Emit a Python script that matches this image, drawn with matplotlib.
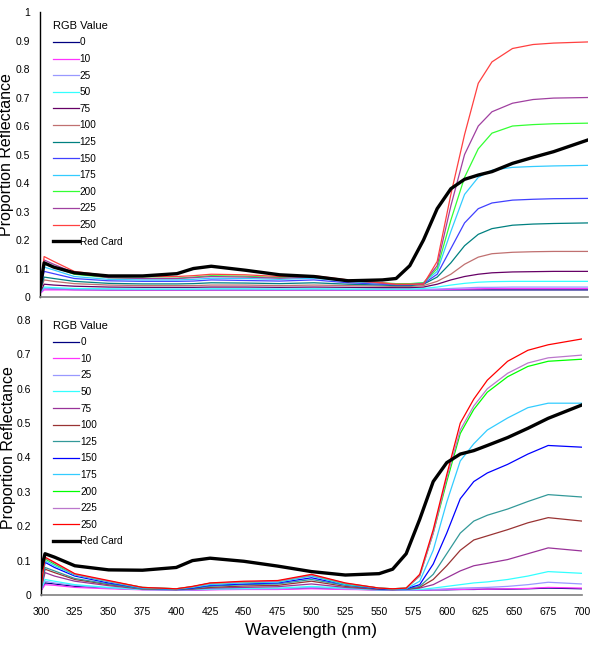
import matplotlib
matplotlib.use('Agg')
import matplotlib.pyplot as plt
import numpy as np

plt.rcParams['font.family'] = ['Liberation Sans', 'DejaVu Sans']

# wavelength samples (nm)
wl = [300, 303, 310, 325, 350, 375, 400, 412, 425, 450, 475, 500, 525,
      550, 560, 570, 580, 590, 600, 610, 620, 630, 645, 660, 675, 700]

rgb_labels = ['0', '10', '25', '50', '75', '100', '125', '150', '175',
              '200', '225', '250']

# ---- top panel ----
top_0 = [0.015, 0.03, 0.028, 0.026, 0.025, 0.025, 0.025, 0.025, 0.025, 0.025, 0.025, 0.025, 0.025,
         0.025, 0.025, 0.025, 0.025, 0.025, 0.025, 0.025, 0.025, 0.025, 0.025, 0.025, 0.025, 0.025]
top_10 = [0.012, 0.025, 0.025, 0.025, 0.025, 0.025, 0.025, 0.025, 0.025, 0.025, 0.025, 0.025, 0.025,
          0.025, 0.025, 0.025, 0.025, 0.026, 0.027, 0.028, 0.029, 0.03, 0.03, 0.03, 0.03, 0.03]
top_25 = [0.015, 0.03, 0.029, 0.028, 0.027, 0.027, 0.027, 0.027, 0.027, 0.027, 0.027, 0.027, 0.027,
          0.027, 0.027, 0.027, 0.027, 0.028, 0.03, 0.032, 0.034, 0.034, 0.035, 0.035, 0.035, 0.035]
top_50 = [0.015, 0.035, 0.033, 0.03, 0.029, 0.028, 0.028, 0.028, 0.029, 0.029, 0.028, 0.029, 0.028,
          0.028, 0.028, 0.028, 0.03, 0.035, 0.042, 0.048, 0.052, 0.054, 0.055, 0.055, 0.055, 0.055]
top_75 = [0.015, 0.045, 0.042, 0.038, 0.035, 0.034, 0.034, 0.034, 0.035, 0.035, 0.034, 0.035, 0.034,
          0.033, 0.033, 0.033, 0.035, 0.045, 0.06, 0.072, 0.08, 0.085, 0.088, 0.089, 0.09, 0.09]
top_100 = [0.018, 0.06, 0.055, 0.047, 0.042, 0.04, 0.04, 0.04, 0.042, 0.042, 0.04, 0.042, 0.04,
           0.038, 0.037, 0.037, 0.04, 0.055, 0.08, 0.115, 0.14, 0.152, 0.157, 0.159, 0.16, 0.16]
top_125 = [0.02, 0.07, 0.065, 0.055, 0.048, 0.046, 0.046, 0.047, 0.05, 0.049, 0.047, 0.05, 0.045,
           0.042, 0.04, 0.04, 0.045, 0.07, 0.12, 0.18, 0.22, 0.24, 0.252, 0.256, 0.258, 0.26]
top_150 = [0.02, 0.09, 0.082, 0.065, 0.057, 0.055, 0.055, 0.056, 0.06, 0.058, 0.056, 0.06, 0.05,
           0.045, 0.043, 0.043, 0.047, 0.08, 0.17, 0.26, 0.31, 0.33, 0.34, 0.343, 0.345, 0.346]
top_175 = [0.02, 0.105, 0.095, 0.072, 0.062, 0.06, 0.06, 0.062, 0.066, 0.065, 0.062, 0.066, 0.055,
           0.048, 0.046, 0.046, 0.05, 0.09, 0.23, 0.36, 0.42, 0.445, 0.455, 0.458, 0.46, 0.462]
top_200 = [0.02, 0.115, 0.105, 0.08, 0.068, 0.066, 0.066, 0.07, 0.075, 0.073, 0.068, 0.072, 0.058,
           0.05, 0.047, 0.047, 0.05, 0.1, 0.27, 0.42, 0.52, 0.575, 0.6, 0.605, 0.608, 0.61]
top_225 = [0.02, 0.13, 0.115, 0.085, 0.068, 0.065, 0.065, 0.068, 0.072, 0.07, 0.066, 0.07, 0.058,
           0.048, 0.044, 0.044, 0.048, 0.11, 0.32, 0.5, 0.6, 0.65, 0.68, 0.693, 0.698, 0.7]
top_250 = [0.02, 0.142, 0.125, 0.09, 0.075, 0.072, 0.072, 0.075, 0.08, 0.078, 0.072, 0.075, 0.06,
           0.05, 0.045, 0.045, 0.045, 0.125, 0.36, 0.57, 0.75, 0.825, 0.872, 0.886, 0.891, 0.895]
top_card = [0.03, 0.12, 0.105, 0.085, 0.074, 0.074, 0.082, 0.1, 0.108, 0.094, 0.078, 0.072, 0.057,
            0.06, 0.065, 0.11, 0.2, 0.31, 0.38, 0.413, 0.428, 0.44, 0.469, 0.49, 0.51, 0.551]

# ---- bottom panel ----
bot_0 = [0.012, 0.035, 0.032, 0.025, 0.02, 0.016, 0.015, 0.015, 0.016, 0.017, 0.017, 0.02, 0.017,
         0.015, 0.014, 0.014, 0.014, 0.015, 0.015, 0.016, 0.016, 0.017, 0.017, 0.018, 0.02, 0.018]
bot_10 = [0.012, 0.03, 0.028, 0.022, 0.018, 0.015, 0.014, 0.014, 0.015, 0.016, 0.016, 0.018, 0.016,
          0.015, 0.014, 0.014, 0.014, 0.015, 0.016, 0.016, 0.017, 0.017, 0.018, 0.019, 0.022, 0.02]
bot_25 = [0.015, 0.04, 0.035, 0.028, 0.02, 0.016, 0.015, 0.015, 0.016, 0.017, 0.018, 0.022, 0.018,
          0.015, 0.015, 0.015, 0.015, 0.016, 0.018, 0.02, 0.021, 0.022, 0.025, 0.03, 0.037, 0.032]
bot_50 = [0.015, 0.045, 0.04, 0.03, 0.022, 0.016, 0.015, 0.016, 0.018, 0.019, 0.02, 0.025, 0.02,
          0.015, 0.015, 0.015, 0.016, 0.02, 0.025, 0.03, 0.035, 0.038, 0.045, 0.055, 0.068, 0.063]
bot_75 = [0.015, 0.065, 0.055, 0.04, 0.027, 0.017, 0.015, 0.017, 0.02, 0.022, 0.024, 0.032, 0.022,
          0.016, 0.015, 0.016, 0.02, 0.03, 0.05, 0.07, 0.085, 0.092, 0.103, 0.12, 0.137, 0.128]
bot_100 = [0.02, 0.075, 0.065, 0.045, 0.03, 0.018, 0.016, 0.018, 0.022, 0.026, 0.028, 0.04, 0.025,
           0.017, 0.016, 0.017, 0.022, 0.045, 0.085, 0.13, 0.16, 0.172, 0.19, 0.21, 0.225, 0.215]
bot_125 = [0.02, 0.08, 0.07, 0.048, 0.032, 0.018, 0.016, 0.019, 0.025, 0.03, 0.032, 0.045, 0.028,
           0.018, 0.016, 0.017, 0.025, 0.06, 0.12, 0.18, 0.215, 0.232, 0.25, 0.272, 0.292, 0.285]
bot_150 = [0.02, 0.095, 0.08, 0.055, 0.035, 0.02, 0.017, 0.02, 0.028, 0.032, 0.035, 0.05, 0.03,
           0.018, 0.017, 0.018, 0.03, 0.09, 0.18, 0.28, 0.33, 0.355, 0.38, 0.41, 0.435, 0.43]
bot_175 = [0.02, 0.1, 0.085, 0.058, 0.038, 0.02, 0.017, 0.022, 0.03, 0.035, 0.037, 0.055, 0.03,
           0.02, 0.017, 0.018, 0.04, 0.13, 0.27, 0.39, 0.44, 0.48, 0.515, 0.545, 0.558, 0.558]
bot_200 = [0.02, 0.105, 0.09, 0.06, 0.04, 0.022, 0.018, 0.024, 0.034, 0.038, 0.04, 0.058, 0.033,
           0.02, 0.018, 0.02, 0.055, 0.18, 0.33, 0.47, 0.54, 0.59, 0.635, 0.665, 0.68, 0.686]
bot_225 = [0.02, 0.108, 0.093, 0.06, 0.04, 0.022, 0.018, 0.024, 0.034, 0.038, 0.04, 0.058, 0.034,
           0.02, 0.018, 0.02, 0.055, 0.18, 0.34, 0.48, 0.55, 0.6, 0.645, 0.675, 0.69, 0.698]
bot_250 = [0.02, 0.11, 0.095, 0.062, 0.042, 0.022, 0.018, 0.025, 0.035, 0.04, 0.042, 0.06, 0.035,
           0.02, 0.018, 0.02, 0.06, 0.19, 0.35, 0.5, 0.57, 0.625, 0.68, 0.712, 0.728, 0.745]
bot_card = [0.073, 0.12, 0.11, 0.085, 0.073, 0.072, 0.08, 0.1, 0.107, 0.098, 0.084, 0.068, 0.058,
            0.062, 0.075, 0.12, 0.22, 0.33, 0.385, 0.41, 0.42, 0.435, 0.458, 0.485, 0.514, 0.553]

top_colors = ['#000080', '#ff33ff', '#9999ff', '#33ffff', '#660066', '#c07070',
              '#008080', '#4040ff', '#33ccff', '#33ff33', '#a040a0', '#ff4040']
bot_colors = ['#000080', '#ff33ff', '#9999ff', '#33ffff', '#993399', '#993333',
              '#339999', '#0000ff', '#33ccff', '#00ff00', '#bb77cc', '#ff0000']

top_series = [top_0, top_10, top_25, top_50, top_75, top_100, top_125, top_150,
              top_175, top_200, top_225, top_250]
bot_series = [bot_0, bot_10, bot_25, bot_50, bot_75, bot_100, bot_125, bot_150,
              bot_175, bot_200, bot_225, bot_250]


def draw_panel(ax, series, colors, card, ymax, show_x, leg_top, lab_y):
    for vals, c, lab in zip(series, colors, rgb_labels):
        ax.plot(wl, vals, color=c, lw=0.9, label=lab)
    ax.plot(wl, card, color='black', lw=2.4, label='Red Card')
    ax.set_xlim(300, 700)
    ax.set_ylim(0, ymax)
    yt = np.round(np.arange(0, ymax + 0.001, 0.1), 1)
    ax.set_yticks(yt)
    ax.set_yticklabels(['%g' % v for v in yt])
    ax.set_xticks(np.arange(300, 701, 25))
    if not show_x:
        ax.set_xticklabels([])
    ax.tick_params(axis='y', length=0, labelsize=7.5, pad=7)
    ax.tick_params(axis='x', length=0, labelsize=7.5, pad=9)
    ax.spines['top'].set_visible(False)
    ax.spines['right'].set_visible(False)
    ax.spines['bottom'].set_color('#808080')
    ax.spines['bottom'].set_linewidth(1.2)
    ax.spines['left'].set_linewidth(1.0)
    ax.set_ylabel('Proportion Reflectance', fontsize=11.5)
    ax.yaxis.set_label_coords(-0.047, lab_y)
    # legend, no frame, title on the left
    ax.legend(loc='upper left', bbox_to_anchor=(0.012, leg_top), frameon=False,
              title='RGB Value', fontsize=7.2, title_fontsize=8,
              handlelength=2.6, handletextpad=0.1, labelspacing=0.66,
              alignment='left', borderaxespad=0.2)


fig = plt.figure(figsize=(6.0, 6.46), dpi=100)
ax1 = fig.add_axes([0.0667, 0.5402, 0.913, 0.4412])
ax2 = fig.add_axes([0.0683, 0.079, 0.9017, 0.4256])

draw_panel(ax1, top_series, top_colors, top_card, 1.0, False, 0.99, 0.5)
draw_panel(ax2, bot_series, bot_colors, bot_card, 0.8, True, 1.02, 0.535)
ax2.set_xlabel('Wavelength (nm)', fontsize=12.5, labelpad=4)

plt.savefig('out.png', dpi=100)
